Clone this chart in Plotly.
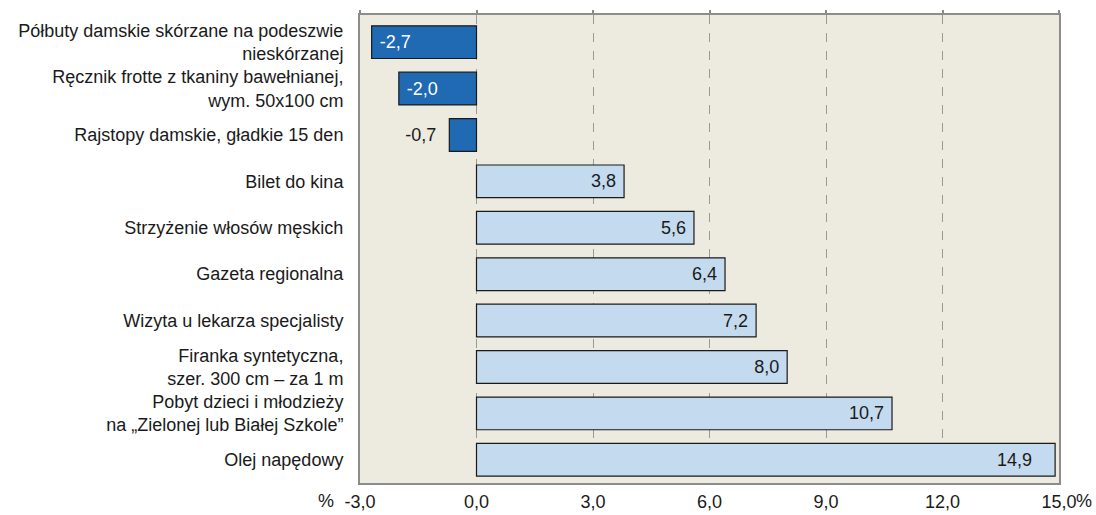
import plotly.graph_objects as go

categories = [
    "Półbuty damskie skórzane na podeszwie<br>nieskórzanej",
    "Ręcznik frotte z tkaniny bawełnianej,<br>wym. 50x100 cm",
    "Rajstopy damskie, gładkie 15 den",
    "Bilet do kina",
    "Strzyżenie włosów męskich",
    "Gazeta regionalna",
    "Wizyta u lekarza specjalisty",
    "Firanka syntetyczna,<br>szer. 300 cm – za 1 m",
    "Pobyt dzieci i młodzieży<br>na „Zielonej lub Białej Szkole”",
    "Olej napędowy",
]
values = [-2.7, -2.0, -0.7, 3.8, 5.6, 6.4, 7.2, 8.0, 10.7, 14.9]
tick_vals = [-3, 0, 3, 6, 9, 12, 15]
tick_text = ["-3,0", "0,0", "3,0", "6,0", "9,0", "12,0", "15,0"]

FONT = "Liberation Sans, Arial, sans-serif"
NB = "\u00a0"
dark = "#1F6AB2"
light = "#C4DAEE"
colors = [dark if v < 0 else light for v in values]
positions = ["outside" if -1 < v < 0 else "inside" for v in values]
text_colors = []
labels = []
for v, p in zip(values, positions):
    s = f"{v:.1f}".replace(".", ",")
    if p == "outside":
        labels.append(s + NB * 2)
        text_colors.append("#1a1a1a")
    elif v < 0:
        labels.append(NB + s)
        text_colors.append("white")
    else:
        pad = NB * 4 if v > 14 else NB
        labels.append(s + pad)
        text_colors.append("#1a1a1a")

fig = go.Figure()
fig.add_trace(go.Bar(
    x=values, y=categories, orientation="h",
    marker=dict(color=colors, line=dict(color="#1a1a1a", width=1.2)),
    width=0.705,
    text=labels, textposition=positions, insidetextanchor="end",
    textfont=dict(family=FONT, size=18, color=text_colors),
    outsidetextfont=dict(family=FONT, size=18, color="#1a1a1a"),
    constraintext="none", cliponaxis=False,
    hoverinfo="skip",
))
# invisible trace on top axis for small tick marks
fig.add_trace(go.Scatter(x=[-3, 15], y=[categories[0], categories[0]], xaxis="x2",
                         mode="markers", marker=dict(opacity=0), hoverinfo="skip", showlegend=False))

fig.update_layout(
    width=1096, height=515,
    margin=dict(l=360, r=37, t=15, b=32, autoexpand=False),
    paper_bgcolor="white", plot_bgcolor="#EDEBE0",
    showlegend=False,
    font=dict(family=FONT, size=18, color="#1a1a1a"),
    xaxis=dict(range=[-3, 15], tickvals=tick_vals, ticktext=tick_text,
               showgrid=True, gridcolor="#9a9a9a", griddash="dash", gridwidth=1,
               zeroline=False, showline=True, linecolor="#8c8c8c", linewidth=2,
               mirror=True, ticks="", ticklabelstandoff=1, automargin=False,
               tickfont=dict(family=FONT, size=18)),
    xaxis2=dict(range=[-3, 15], tickvals=tick_vals, overlaying="x", side="top",
                showticklabels=False, ticks="outside", ticklen=4, tickcolor="#8c8c8c",
                tickwidth=2, showgrid=False, zeroline=False, showline=False, automargin=False),
    yaxis=dict(autorange="reversed", showline=True, linecolor="#8c8c8c", linewidth=2,
               mirror=True, ticks="", ticklabelstandoff=11, automargin=False,
               tickfont=dict(family=FONT, size=18)),
    annotations=[
        dict(text="%", xref="x", yref="paper", x=-3, y=0, xshift=-34, yshift=-18,
             showarrow=False, xanchor="center", yanchor="middle",
             font=dict(family=FONT, size=18)),
        dict(text="%", xref="x", yref="paper", x=15, y=0, xshift=15, yshift=-18,
             showarrow=False, xanchor="left", yanchor="middle",
             font=dict(family=FONT, size=18)),
    ],
)
fig.write_html("out.html", config={"displayModeBar": False},
               post_script="document.body.style.margin='0';")
